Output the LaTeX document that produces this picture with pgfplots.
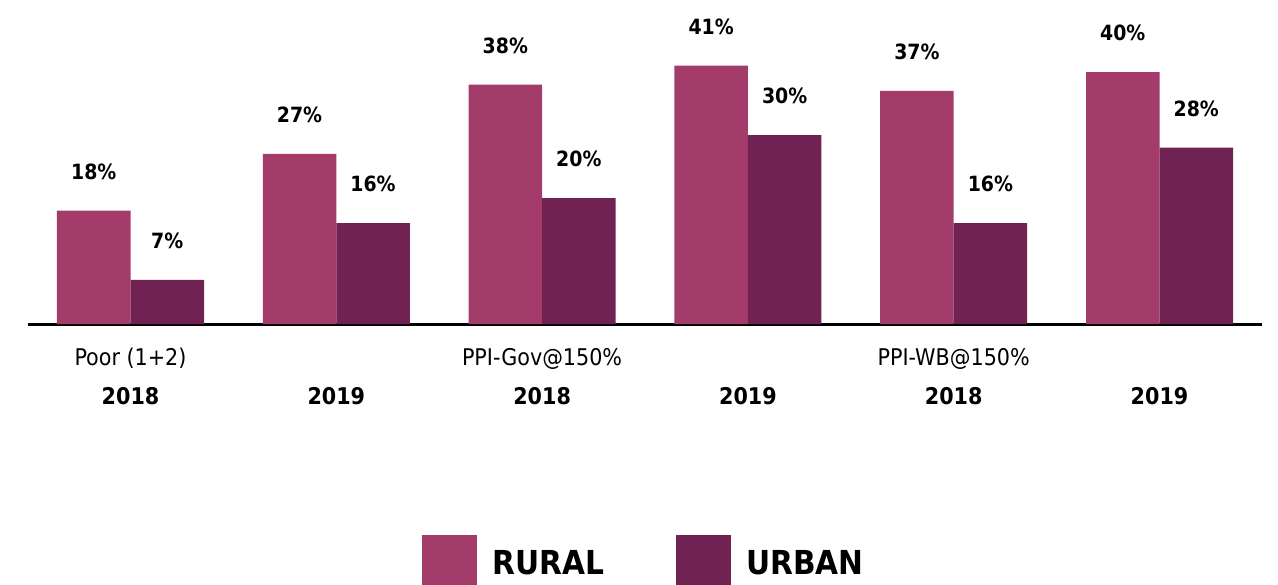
\documentclass[border=0pt]{standalone}
\usepackage{fontspec}
\setmainfont{DejaVu Sans Condensed}
\usepackage{pgfplots}
\pgfplotsset{compat=1.18}
\definecolor{rural}{HTML}{A33B6B}
\definecolor{urban}{HTML}{702252}
\begin{document}
\begin{tikzpicture}
\begin{axis}[at={(13.8pt,130pt)},anchor=south west,
  scale only axis,width=617.4pt,height=157.5pt,clip=false,
  ybar=0pt,bar width=36.75pt,
  xmin=-0.5,xmax=5.5,ymin=0,ymax=50,
  axis y line=none,axis x line*=bottom,
  x axis line style={line width=1.5pt,-},
  /pgf/number format/assume math mode=true,
  xtick={0,...,5},xtick style={draw=none},
  xticklabels={2018,2019,2018,2019,2018,2019},
  xticklabel style={font=\bfseries\fontsize{11.5}{12}\selectfont,anchor=base,yshift=-36pt},
  nodes near coords={\pgfmathprintnumber{\pgfplotspointmeta}\%},
  every node near coord/.append style={font=\bfseries\fontsize{10.5}{12}\selectfont,anchor=base,yshift=15.75pt,inner sep=0pt},
  legend columns=2,
  legend style={draw=none,at={(0.5,0)},anchor=north,yshift=-105.5pt,inner sep=0pt,
    font=\bfseries\fontsize{16.5}{18}\selectfont,
    /tikz/every even column/.append style={column sep=34pt}},
  legend image code/.code={\fill[#1,draw=none] (0pt,-13pt) rectangle (27.5pt,14.5pt);
    \path (33pt,0pt);},
]
\addplot[fill=rural,draw=none] coordinates {(0,18) (1,27) (2,38) (3,41) (4,37) (5,40)};
\addplot[fill=urban,draw=none] coordinates {(0,7) (1,16) (2,20) (3,30) (4,16) (5,28)};
\legend{RURAL,URBAN}
\node[font=\fontsize{11.5}{12}\selectfont,anchor=base,yshift=-20.75pt] at (axis cs:0,0) {Poor (1+2)};
\node[font=\fontsize{11.5}{12}\selectfont,anchor=base,yshift=-20.75pt] at (axis cs:2,0) {PPI-Gov@150\%};
\node[font=\fontsize{11.5}{12}\selectfont,anchor=base,yshift=-20.75pt] at (axis cs:4,0) {PPI-WB@150\%};
\end{axis}
\pgfresetboundingbox
\path[use as bounding box] (0,0) rectangle (639pt,292pt);
\end{tikzpicture}
\end{document}
